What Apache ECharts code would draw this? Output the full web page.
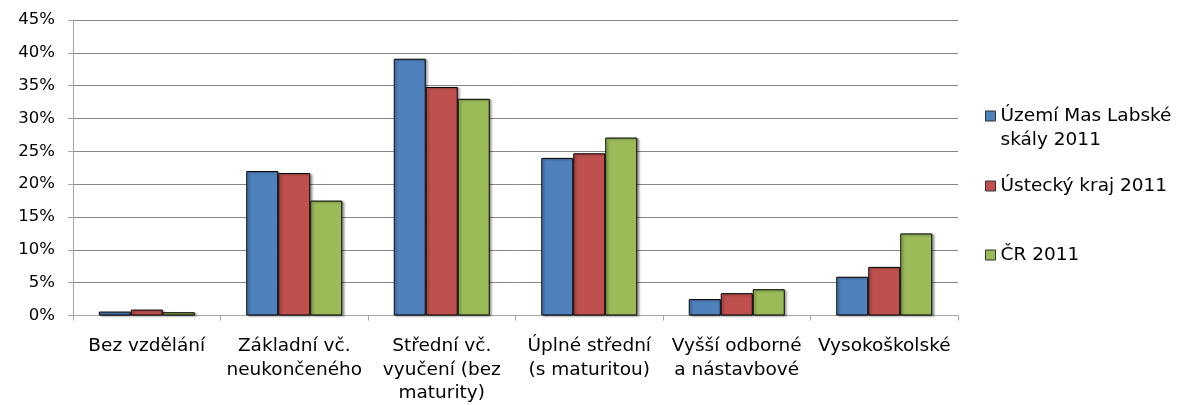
<!DOCTYPE html>
<html>
<head>
<meta charset="utf-8">
<script src="https://cdn.jsdelivr.net/npm/echarts@6/dist/echarts.min.js"></script>
<style>
  html, body { margin: 0; padding: 0; background: #fff; }
  #chart { width: 1186px; height: 405px; }
</style>
</head>
<body>
<div id="chart"></div>
<script>
// categories and series (fractions)
var categories = [
    'Bez vzdělání',
    'Základní vč.\nneukončeného',
    'Střední vč.\nvyučení (bez\nmaturity)',
    'Úplné střední\n(s maturitou)',
    'Vyšší odborné\na nástavbové',
    'Vysokoškolské'
];
var seriesNames = ['Území Mas Labské\nskály 2011', 'Ústecký kraj 2011', 'ČR 2011'];
var masValues = [0.006, 0.220, 0.391, 0.240, 0.025, 0.059];
var usteckyValues = [0.009, 0.217, 0.348, 0.247, 0.034, 0.074];
var crValues = [0.005, 0.175, 0.330, 0.271, 0.040, 0.125];
var colors = ['#4F81BD', '#C0504D', '#9BBB59'];

var fontFamily = 'DejaVu Sans, Liberation Sans, sans-serif';

var myChart = echarts.init(document.getElementById('chart'));

function makeSeries(name, data, color) {
    return {
        name: name,
        type: 'bar',
        barWidth: 32,
        barGap: '0%',
        itemStyle: {
            color: color,
            borderColor: '#000',
            borderWidth: 1,
            shadowColor: 'rgba(0,0,0,0.35)',
            shadowOffsetX: 2,
            shadowOffsetY: 1,
            shadowBlur: 2
        },
        emphasis: { disabled: true },
        data: data
    };
}

// one legend per entry so the spacing can follow the original
function legendFor(name, top, leadBlank) {
    return {
        orient: 'vertical',
        left: 980,
        top: top,
        itemWidth: 10,
        itemHeight: 10,
        icon: 'rect',
        itemStyle: { borderColor: '#333', borderWidth: 1 },
        data: [name],
        // a blank first line keeps the icon level with the first text line
        formatter: function (n) { return leadBlank ? '\n' + n : n; },
        textStyle: {
            fontFamily: fontFamily,
            fontSize: 18.5,
            color: '#000',
            lineHeight: 24
        }
    };
}

myChart.setOption({
    animation: false,
    color: colors,
    grid: {
        left: 73,
        right: 228,
        top: 20,
        bottom: 87
    },
    legend: [
        legendFor(seriesNames[0], 75, true),
        legendFor(seriesNames[1], 169, false),
        legendFor(seriesNames[2], 238, false)
    ],
    xAxis: {
        type: 'category',
        data: categories,
        axisLine: { lineStyle: { color: '#A6A6A6', width: 1 } },
        axisTick: { show: true, length: 5, lineStyle: { color: '#A6A6A6' } },
        axisLabel: {
            interval: 0,
            margin: 19,
            color: '#000',
            fontFamily: fontFamily,
            fontSize: 18.5,
            lineHeight: 23.5
        }
    },
    yAxis: {
        type: 'value',
        min: 0,
        max: 0.45,
        interval: 0.05,
        axisLine: { show: true, lineStyle: { color: '#A6A6A6', width: 1 } },
        axisTick: { show: true, length: 5, lineStyle: { color: '#A6A6A6' } },
        splitLine: { lineStyle: { color: '#878787', width: 1 } },
        axisLabel: {
            margin: 18,
            color: '#000',
            fontFamily: fontFamily,
            fontSize: 16.5,
            formatter: function (v) { return Math.round(v * 100) + '%'; }
        }
    },
    series: [
        makeSeries(seriesNames[0], masValues, colors[0]),
        makeSeries(seriesNames[1], usteckyValues, colors[1]),
        makeSeries(seriesNames[2], crValues, colors[2])
    ]
});
</script>
</body>
</html>
